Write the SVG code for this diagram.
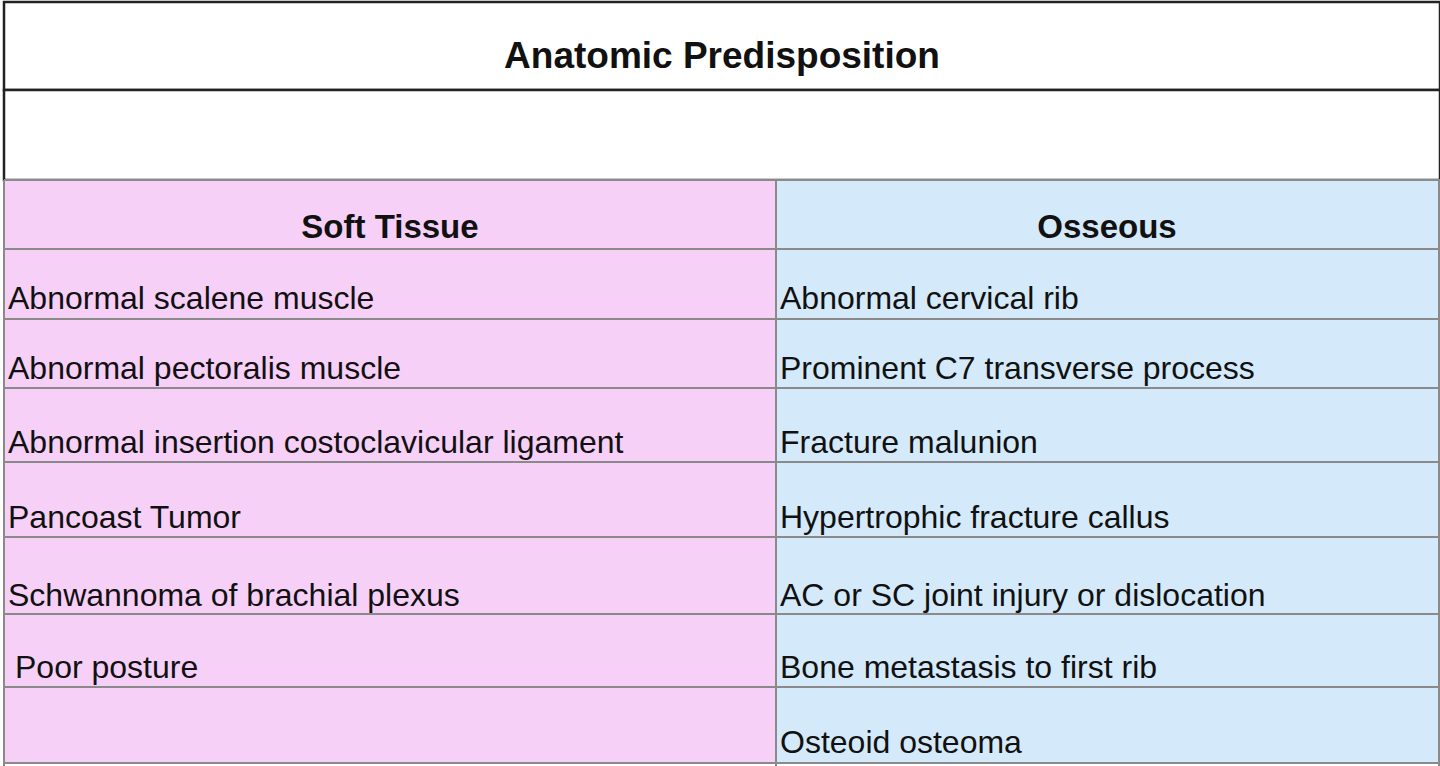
<svg xmlns="http://www.w3.org/2000/svg" width="1440" height="766" viewBox="0 0 1440 766">
<style>
.t{font-family:"Liberation Sans",Arial,sans-serif;font-size:32px;fill:#111}
.b{font-weight:bold;font-size:33px;text-anchor:middle}
.g{stroke:#8a8a8a;stroke-width:2}
</style>
<rect x="0" y="0" width="1440" height="766" fill="#fff"/>
<g id="title"><rect x="4" y="2" width="1436" height="88" fill="#fff" stroke="#222" stroke-width="2.5"/>
<text class="t b" x="722" y="68" style="font-size:37px">Anatomic Predisposition</text></g>
<g id="blank"><rect x="4" y="90" width="1436" height="90" fill="#fff" stroke="#222" stroke-width="2.5"/></g>
<g id="soft"><rect x="4" y="180" width="772" height="584" fill="#f7d0f8"/></g>
<g id="osseous"><rect x="776" y="180" width="664" height="584" fill="#d4eafb"/></g>
<g id="lines">
<line class="g" x1="4" y1="180" x2="1440" y2="180" stroke="#222"/>
<line class="g" x1="4" y1="249" x2="1440" y2="249"/>
<line class="g" x1="4" y1="319" x2="1440" y2="319"/>
<line class="g" x1="4" y1="388" x2="1440" y2="388"/>
<line class="g" x1="4" y1="462" x2="1440" y2="462"/>
<line class="g" x1="4" y1="537" x2="1440" y2="537"/>
<line class="g" x1="4" y1="614" x2="1440" y2="614"/>
<line class="g" x1="4" y1="687" x2="1440" y2="687"/>
<line class="g" x1="4" y1="763" x2="1440" y2="763"/>
<line class="g" x1="776" y1="180" x2="776" y2="766"/>
<line class="g" x1="4" y1="180" x2="4" y2="766"/>
<line class="g" x1="1439" y1="180" x2="1439" y2="766"/>
</g>
<g id="texts">
<text class="t b" x="390" y="238">Soft Tissue</text>
<text class="t b" x="1107" y="238">Osseous</text>
<text class="t" x="8" y="309">Abnormal scalene muscle</text>
<text class="t" x="8" y="379">Abnormal pectoralis muscle</text>
<text class="t" x="8" y="453">Abnormal insertion costoclavicular ligament</text>
<text class="t" x="8" y="528">Pancoast Tumor</text>
<text class="t" x="8" y="606">Schwannoma of brachial plexus</text>
<text class="t" x="15" y="678">Poor posture</text>
<text class="t" x="780" y="309">Abnormal cervical rib</text>
<text class="t" x="780" y="379">Prominent C7 transverse process</text>
<text class="t" x="780" y="453">Fracture malunion</text>
<text class="t" x="780" y="528">Hypertrophic fracture callus</text>
<text class="t" x="780" y="606">AC or SC joint injury or dislocation</text>
<text class="t" x="780" y="678">Bone metastasis to first rib</text>
<text class="t" x="780" y="753">Osteoid osteoma</text>
</g>
</svg>
